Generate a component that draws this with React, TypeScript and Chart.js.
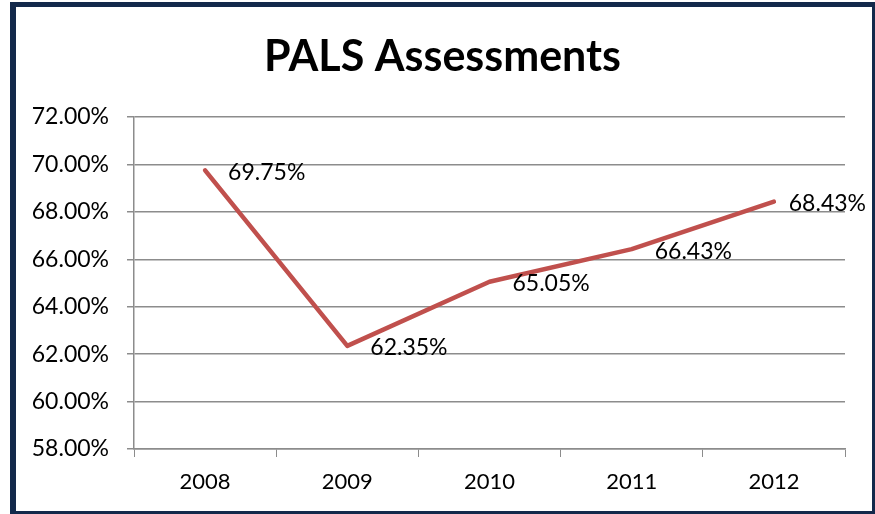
import React, { useEffect, useRef } from "react";
import { Chart, registerables } from "chart.js";

Chart.register(...registerables);

const years = ["2008", "2009", "2010", "2011", "2012"];
const pals = [69.75, 62.35, 65.05, 66.43, 68.43];
const yMin = 58;
const yMax = 72;
const yStep = 2;
const titleText = "PALS Assessments";

const FONT = "Lato, 'Open Sans', sans-serif";

export default function App() {
  const ref = useRef<HTMLCanvasElement | null>(null);

  useEffect(() => {
    if (!ref.current) return;
    const labelPlugin = {
      id: "valueLabels",
      afterDatasetsDraw(chart: any) {
        const ctx = chart.ctx;
        const meta = chart.getDatasetMeta(0);
        ctx.save();
        ctx.font = `23px ${FONT}`;
        ctx.fillStyle = "#000";
        ctx.textAlign = "left";
        ctx.textBaseline = "middle";
        meta.data.forEach((el: any, i: number) => {
          const txt = pals[i].toFixed(2) + "%";
          const w = ctx.measureText(txt).width;
          let x = el.x + 23;
          const limit = chart.width - 9;
          if (x + w > limit) x = limit - w;
          ctx.fillText(txt, x, el.y + 2);
        });
        ctx.restore();
      },
    };

    const chart = new Chart(ref.current, {
      type: "line",
      data: {
        labels: years,
        datasets: [
          {
            data: pals,
            borderColor: "#c0504d",
            borderWidth: 4.5,
            pointRadius: 0,
            tension: 0,
            borderCapStyle: "round",
            borderJoinStyle: "round",
          },
        ],
      },
      options: {
        responsive: false,
        animation: false,
        layout: { padding: { left: 10, right: 0, top: 0, bottom: 0 } },
        plugins: {
          legend: { display: false },
          tooltip: { enabled: false },
          title: {
            display: true,
            text: titleText,
            color: "#000",
            font: { family: FONT, size: 43, weight: "bold", lineHeight: 1.2 },
            padding: { top: 31, bottom: 34.4 },
          },
        },
        scales: {
          x: {
            offset: true,
            grid: {
              offset: true,
              drawOnChartArea: false,
              drawTicks: true,
              tickLength: 8,
              color: "#8c8c8c",
            },
            border: { color: "#8c8c8c", width: 1.5 },
            ticks: {
              color: "#000",
              font: { family: FONT, size: 22 },
              padding: 12,
              maxRotation: 0,
            },
            afterFit: (s: any) => {
              s.height = 65;
            },
          },
          y: {
            min: yMin,
            max: yMax,
            grid: { color: "#8c8c8c", lineWidth: 1.5, tickLength: 7 },
            border: { color: "#8c8c8c", width: 1.5 },
            ticks: {
              stepSize: yStep,
              color: "#000",
              font: { family: FONT, size: 23 },
              padding: 18,
              callback: (v: any) => Number(v).toFixed(2) + "%",
            },
            afterFit: (s: any) => {
              s.width = 124;
            },
          },
          spacer: {
            type: "linear",
            position: "right",
            display: true,
            grid: { display: false },
            border: { display: false },
            ticks: { display: false },
            afterFit: (s: any) => {
              s.width = 30;
            },
          },
        },
      },
      plugins: [labelPlugin],
    } as any);
    return () => chart.destroy();
  }, []);

  return (
    <div
      style={{
        position: "fixed",
        left: 0,
        top: 0,
        width: 875,
        height: 514,
        background: "#fff",
        overflow: "hidden",
      }}
    >
      <div
        style={{
          position: "absolute",
          left: 10,
          top: 2,
          width: 865,
          height: 512,
          boxSizing: "border-box",
          borderStyle: "solid",
          borderColor: "#13294b",
          borderLeftWidth: 6,
          borderTopWidth: 5,
          borderRightWidth: 3,
          borderBottomWidth: 3,
        }}
      />
      <canvas
        ref={ref}
        width={875}
        height={514}
        style={{ position: "absolute", left: 0, top: 0, width: 875, height: 514 }}
      />
    </div>
  );
}
